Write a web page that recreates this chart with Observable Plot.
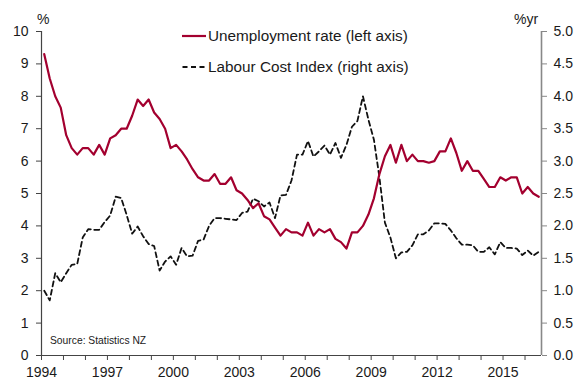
<!DOCTYPE html>
<html>
<head>
<meta charset="utf-8">
<script src="https://cdn.jsdelivr.net/npm/d3@7"></script>
<script src="https://cdn.jsdelivr.net/npm/@observablehq/plot@0.6"></script>
<style>
  html, body { margin: 0; padding: 0; background: #fff; }
  #wrap { position: relative; width: 577px; height: 380px; font-family: "Liberation Sans", Arial, sans-serif; color: #1a1a1a; }
  .lbl { position: absolute; font-size: 14px; line-height: 14px; white-space: nowrap; }
  .leg { position: absolute; left: 182px; font-size: 15.3px; line-height: 16px; white-space: nowrap; display: flex; align-items: center; }
  .leg svg { margin-right: 2px; }
  .src { position: absolute; left: 50px; top: 335px; font-size: 10.3px; line-height: 12px; }
</style>
</head>
<body>
<div id="wrap"></div>
<script>
// Quarterly data, 1994 Q1 to 2016 Q3
const startYear = 1994;
const unemployment = [
  9.3, 8.55, 8.0, 7.65, 6.8, 6.4, 6.2, 6.4, 6.4, 6.2, 6.5, 6.2,
  6.7, 6.8, 7.0, 7.0, 7.4, 7.9, 7.7, 7.9, 7.5, 7.3, 7.0, 6.4,
  6.5, 6.3, 6.05, 5.75, 5.5, 5.4, 5.4, 5.6, 5.3, 5.3, 5.5, 5.1,
  5.0, 4.8, 4.55, 4.7, 4.3, 4.2, 3.95, 3.7, 3.9, 3.8, 3.8, 3.7,
  4.1, 3.7, 3.9, 3.8, 3.9, 3.6, 3.5, 3.3, 3.8, 3.8, 4.0, 4.35,
  4.85, 5.6, 6.15, 6.5, 5.95, 6.5, 6.0, 6.2, 6.0, 6.0, 5.95, 6.0,
  6.3, 6.3, 6.7, 6.25, 5.7, 6.0, 5.7, 5.7, 5.45, 5.2, 5.2, 5.5,
  5.4, 5.5, 5.5, 5.0, 5.2, 5.0, 4.9
];
const labourCostIndex = [
  1.0, 0.85, 1.27, 1.13, 1.27, 1.40, 1.41, 1.82, 1.95, 1.94, 1.94, 2.06,
  2.16, 2.45, 2.43, 2.17, 1.88, 1.99, 1.84, 1.72, 1.69, 1.31, 1.45, 1.53,
  1.40, 1.66, 1.53, 1.54, 1.77, 1.79, 2.0, 2.12, 2.12, 2.11, 2.10, 2.09,
  2.20, 2.22, 2.42, 2.38, 2.30, 2.36, 2.12, 2.47, 2.48, 2.70, 3.10, 3.10,
  3.31, 3.07, 3.15, 3.24, 3.10, 3.28, 3.05, 3.25, 3.53, 3.62, 4.0, 3.64,
  3.33, 2.75, 2.05, 1.82, 1.50, 1.59, 1.60, 1.70, 1.87, 1.87, 1.93, 2.04,
  2.04, 2.03, 1.93, 1.81, 1.71, 1.71, 1.70, 1.60, 1.60, 1.67, 1.56, 1.75,
  1.66, 1.66, 1.65, 1.55, 1.62, 1.54, 1.60
];
const yearTicks = d3.range(1994, 2017);
const labelYears = [1994, 1997, 2000, 2003, 2006, 2009, 2012, 2015];
const leftTicks = [0, 1, 2, 3, 4, 5, 6, 7, 8, 9, 10];
const rightTicks = [0.0, 0.5, 1.0, 1.5, 2.0, 2.5, 3.0, 3.5, 4.0, 4.5, 5.0];
const seriesNames = ["Unemployment rate (left axis)", "Labour Cost Index (right axis)"];
const sourceText = "Source: Statistics NZ";

const RED = "#A3002F";
const rows = unemployment.map((u, i) => ({
  date: startYear + (i + 0.5) / 4,
  u,
  l: labourCostIndex[i]
}));
const xEnd = startYear + unemployment.length / 4;

const chart = Plot.plot({
  width: 577,
  height: 380,
  marginLeft: 41,
  marginRight: 36,
  marginTop: 31,
  marginBottom: 25,
  style: { fontFamily: "'Liberation Sans', Arial, sans-serif", fontSize: "14px", background: "white", color: "#1a1a1a" },
  x: { domain: [startYear, xEnd] },
  y: { domain: [0, 10] },
  marks: [
    Plot.axisX({ ticks: yearTicks, tickFormat: d => labelYears.includes(d) ? String(d) : "", tickSize: 5, tickPadding: 7, label: null, stroke: "#444" }),
    Plot.axisY({ anchor: "left", ticks: leftTicks, tickFormat: d => String(d), tickSize: 5, tickPadding: 8, label: null, stroke: "#444" }),
    Plot.axisY({ anchor: "right", ticks: rightTicks.map(v => v * 2), tickFormat: d => (d / 2).toFixed(1), tickSize: 5, tickPadding: 7, label: null, stroke: "#888" }),
    Plot.ruleX([startYear], { stroke: "#444", strokeWidth: 1.2 }),
    Plot.ruleX([xEnd], { stroke: "#888", strokeWidth: 1.6 }),
    Plot.ruleY([0], { stroke: "#444", strokeWidth: 1.2 }),
    Plot.line(rows, { x: "date", y: d => d.l * 2, stroke: "#111", strokeWidth: 1.8, strokeDasharray: "5,3.5" }),
    Plot.line(rows, { x: "date", y: "u", stroke: RED, strokeWidth: 2.2 })
  ]
});

const wrap = document.getElementById("wrap");
wrap.appendChild(chart);

function addDiv(cls, html, styleObj) {
  const d = document.createElement("div");
  d.className = cls;
  d.innerHTML = html;
  Object.assign(d.style, styleObj || {});
  wrap.appendChild(d);
  return d;
}
addDiv("lbl", "%", { left: "37px", top: "12px" });
addDiv("lbl", "%yr", { left: "514px", top: "12px" });
addDiv("leg", `<svg width="24" height="6"><line x1="0" y1="3" x2="24" y2="3" stroke="${RED}" stroke-width="2.2"/></svg><span>${seriesNames[0]}</span>`, { top: "28px" });
addDiv("leg", `<svg width="24" height="6"><line x1="0.5" y1="3" x2="24" y2="3" stroke="#111" stroke-width="1.8" stroke-dasharray="5,3.5"/></svg><span>${seriesNames[1]}</span>`, { top: "59px" });
addDiv("src", sourceText);
</script>
</body>
</html>
